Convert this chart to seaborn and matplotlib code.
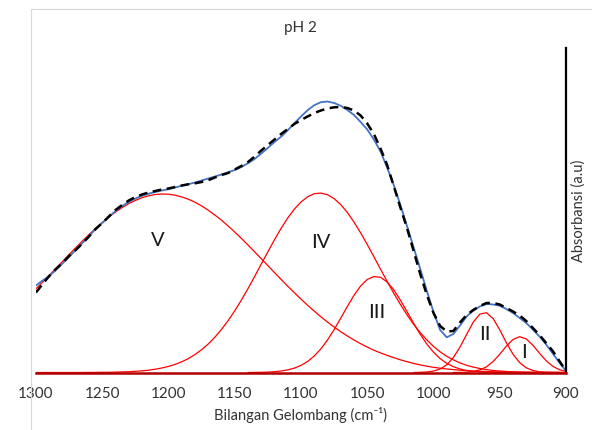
import numpy as np
import pandas as pd
import matplotlib
matplotlib.use("Agg")
import matplotlib.pyplot as plt
import seaborn as sns
from matplotlib.patches import Rectangle

# wavenumber grids (cm-1)
wn = np.arange(1300, 899, -5)
wn_III = np.arange(1140, 944, -5)
wn_II = np.arange(1015, 904, -5)
wn_I = np.arange(985, 899, -5)

# measured spectrum (blue), a.u.
measured = [87.0, 92.0, 96.5, 102.5, 109.0, 115.8, 122.5, 129.5, 136.5, 143.5,
            149.5, 155.5, 161.5, 166.5, 170.5, 174.0, 176.8, 178.8, 180.5, 182.0,
            183.3, 185.0, 186.8, 188.3, 190.0, 192.0, 194.0, 196.0, 198.0, 200.2,
            202.5, 205.5, 209.3, 213.5, 219.0, 224.6, 230.5, 235.8, 242.2, 249.3,
            256.0, 262.3, 267.3, 270.3, 271.0, 269.5, 266.7, 262.5, 257.5, 250.5,
            243.0, 233.0, 221.0, 205.0, 187.5, 167.5, 146.5, 125.0, 103.5, 81.5,
            60.5, 42.5, 35.2, 38.5, 47.0, 56.0, 62.0, 66.0, 68.5, 68.0,
            66.8, 63.5, 59.5, 54.5, 49.5, 43.0, 36.0, 28.0, 19.0, 10.0, 1.5]
# fitted sum (dashed)
fitted = [80.0, 88.5, 96.5, 103.5, 109.5, 116.5, 122.5, 129.0, 136.0, 143.5,
          149.5, 156.0, 162.5, 167.5, 172.0, 175.5, 178.0, 180.0, 181.5, 183.0,
          184.0, 185.5, 187.0, 188.2, 189.2, 190.5, 192.3, 195.0, 197.5, 199.5,
          203.0, 206.5, 210.5, 216.0, 222.0, 227.5, 233.0, 238.5, 243.5, 248.5,
          252.5, 256.0, 259.5, 262.0, 264.0, 265.2, 265.5, 264.5, 262.0, 257.0,
          249.0, 238.5, 224.0, 207.5, 186.5, 165.0, 144.5, 121.5, 98.5, 77.5,
          59.5, 46.5, 41.0, 41.5, 50.0, 57.5, 62.5, 66.5, 69.5, 69.5,
          68.0, 64.5, 61.0, 57.0, 51.5, 44.5, 37.5, 29.5, 21.5, 11.5, 1.5]

# deconvoluted peaks
peak_V = [83.7, 90.4, 97.2, 104.1, 111.0, 118.0, 124.8, 131.5, 137.9, 144.1,
          150.0, 155.5, 160.5, 164.9, 168.9, 172.1, 174.8, 176.7, 178.0, 178.5,
          178.3, 177.3, 175.6, 173.3, 170.3, 166.6, 162.3, 157.5, 152.3, 146.5,
          140.5, 134.1, 127.5, 120.7, 113.8, 106.9, 99.9, 93.1, 86.3, 79.8,
          73.4, 67.2, 61.4, 55.7, 50.4, 45.5, 40.8, 36.5, 32.5, 28.8,
          25.4, 22.3, 19.6, 17.1, 14.8, 12.7, 10.8, 9.1, 7.6, 6.3,
          5.2, 4.3, 3.5, 2.9, 2.3, 1.9, 1.5, 1.2, 1.0, 0.8,
          0.6, 0.5, 0.4, 0.3, 0.2, 0.2, 0.1, 0.1, 0.1, 0.1, 0.0]
peak_IV = [0.0, 0.0, 0.0, 0.0, 0.0, 0.0, 0.0, 0.0, 0.1, 0.1,
           0.2, 0.2, 0.4, 0.6, 0.8, 1.2, 1.7, 2.3, 3.3, 4.5,
           6.1, 8.1, 10.7, 13.9, 18.0, 22.8, 28.5, 35.3, 43.1, 51.9,
           61.7, 72.4, 83.9, 96.0, 108.4, 120.7, 132.8, 144.2, 154.5, 163.4,
           170.5, 175.7, 178.8, 179.4, 177.8, 173.9, 167.9, 160.0, 150.4, 139.7,
           128.0, 115.8, 103.4, 91.1, 79.3, 68.1, 57.7, 48.2, 39.8, 32.5,
           26.1, 20.7, 16.2, 12.6, 9.6, 7.2, 5.4, 4.0, 2.9, 2.0,
           1.5, 1.0, 0.7, 0.5, 0.3, 0.2, 0.1, 0.1, 0.1, 0.0, 0.0]
peak_III = [0.0, 0.1, 0.2, 0.4, 0.8, 1.5, 2.6, 4.4, 7.1, 11.0,
            16.5, 23.6, 32.5, 42.9, 54.4, 66.1, 77.2, 86.5, 93.0, 96.0,
            95.2, 90.5, 82.7, 72.4, 60.9, 49.2, 38.1, 28.4, 20.3, 13.9,
            9.1, 5.8, 3.5, 2.0, 1.1, 0.6, 0.3, 0.1, 0.1, 0.0]
peak_II = [0.0, 0.2, 0.5, 1.4, 3.5, 7.7, 14.9, 25.4, 38.1, 50.3, 58.4, 59.8,
           53.9, 42.7, 29.8, 18.3, 9.9, 4.7, 2.0, 0.7, 0.2, 0.1, 0.0]
peak_I = [0.0, 0.1, 0.3, 1.0, 2.6, 5.7, 11.0, 18.3, 26.4, 33.0, 35.8, 33.6,
          27.3, 19.3, 11.8, 6.2, 2.8, 1.1]

peak_names = ["V", "IV", "III", "II", "I"]
label_x = [1208, 1085, 1043, 961, 932]
label_y = [133, 131, 61, 39, 21]

sns.set_style("white")
plt.rcParams["font.family"] = ["Lato", "DejaVu Sans"]

fig = plt.figure(figsize=(5.92, 4.31), dpi=100)
ax = fig.add_axes([36 / 592, 57.5 / 431, 530 / 592, 324.5 / 431])

red = "#FF0000"
for x, vals in [(wn, peak_V), (wn, peak_IV), (wn_III, peak_III),
                (wn_II, peak_II), (wn_I, peak_I)]:
    sns.lineplot(x=x, y=vals, ax=ax, color=red, lw=0.9, sort=False, estimator=None)

sns.lineplot(x=wn, y=measured, ax=ax, color="#4472C4", lw=1.3, sort=False, estimator=None)
sns.lineplot(x=wn, y=fitted, ax=ax, color="black", lw=1.8, sort=False,
             estimator=None, linestyle=(0, (3.5, 2.2)))

for name, lx, ly in zip(peak_names, label_x, label_y):
    ax.text(lx, ly, name, ha="center", va="center", fontsize=14.5, color="#1a1a1a")

ax.set_xlim(1300, 900)
ax.set_ylim(0, 324.5)
ax.set_xticks(range(1300, 899, -50))
ax.set_yticks([])
ax.tick_params(axis="x", length=0, pad=10, labelsize=11, colors="#333333")

for s in ["left", "top"]:
    ax.spines[s].set_visible(False)
ax.spines["right"].set_color("black")
ax.spines["right"].set_linewidth(1.6)
ax.spines["bottom"].set_color("#B00000")
ax.spines["bottom"].set_linewidth(1.8)

ax.set_xlabel("Bilangan Gelombang (cm⁻¹)", fontsize=10.5, color="#333333", labelpad=4)
ax.yaxis.set_label_position("right")
ax.set_ylabel("Absorbansi (a.u)", fontsize=10.5, color="#333333", labelpad=4)

fig.text(300 / 592, 1 - 28 / 431, "pH 2", ha="center", va="center",
         fontsize=11, color="#333333")

fig.patches.append(Rectangle((31 / 592, -0.1), 2, 1.1 - 10 / 431, fill=False,
                             edgecolor="#D9D9D9", lw=0.8, transform=fig.transFigure))

fig.savefig("out.png", dpi=100)
